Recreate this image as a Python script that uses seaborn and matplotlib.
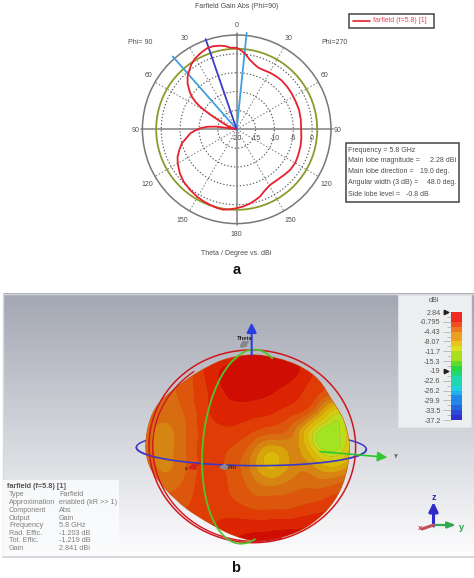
import numpy as np
import matplotlib
matplotlib.use("Agg")
import matplotlib.pyplot as plt
import matplotlib.tri as mtri
from matplotlib.colors import ListedColormap
from matplotlib.patches import PathPatch, Rectangle
from matplotlib.path import Path
import seaborn as sns

sns.set_theme(style="white")
plt.rcParams['font.family'] = ['Liberation Sans', 'DejaVu Sans']

W, H = 474, 578
# ---------- data: polar cut ----------
theta_deg = [0, 3, 6.3, 10.9, 15, 19.4, 25, 30.5, 36, 42.4, 50, 56.8, 65, 72.8, 81, 90, 98, 105, 113, 120, 127,
             133, 141, 149, 155, 161, 166, 170, 175, 180, 185, 189.4, 194, 199.4, 205, 210.7, 218, 225.5, 232,
             237.4, 241, 245, 250, 255.7, 261, 265, 268, 271.6, 275, 277.6, 279, 282, 290, 296, 299, 301.7,
             303.5, 306, 309, 313, 317, 321.4, 325, 329.6, 335, 339.7, 344, 348.7, 352, 355.3, 360]
gain_db = [1.6, 1.0, 0.2, -1.3, -2.1, -2.7, -2.75, -2.6, -2.5, -2.4, -2.5, -2.6, -2.7, -2.7, -2.8, -2.9, -2.7,
           -2.5, -2.3, -2.1, -2.2, -2.5, -2.8, -2.8, -2.2, -1.1, -0.5, 0.0, 0.5, 0.9, 1.3, 1.6, 1.5, 1.25,
           1.0, 0.7, 0.25, -0.25, -0.9, -1.65, -2.1, -2.7, -3.8, -5.0, -6.7, -7.65, -8.8, -10.3, -12.2, -14.7,
           -18.5, -19.6, -17.5, -15.0, -12.0, -8.6, -7.0, -5.3, -3.9, -2.2, -0.9, 0.1, 1.0, 1.8, 2.4, 2.85, 2.9,
           2.6, 2.3, 1.7, 1.6]
green_level_db = 1.35
lobe_dir_deg = 341.0
width_edges_deg = [318.7, 5.9]
ring_levels = [-15, -10, -5, 0]
ring_labels = ["-20", "-15", "-10", "-5", "0"]
ring_label_db = [-20, -15, -10, -5, 0]
info_lines = [("Frequency = 5.8 GHz", ""), ("Main lobe magnitude =", "2.28 dBi"),
              ("Main lobe direction =", "19.0 deg."), ("Angular width (3 dB) =", "48.0 deg."),
              ("Side lobe level =", "-0.8 dB")]
# ---------- data: 3D panel ----------
cb_ticks = ["2.84", "-0.795", "-4.43", "-8.07", "-11.7", "-15.3", "-19", "-22.6", "-26.2", "-29.9", "-33.5", "-37.2"]
cb_levels = [2.84, 1.0, -0.8, -2.6, -4.4, -6.2, -8.1, -9.9, -11.7, -13.5, -15.3, -17.1, -19, -20.8, -22.6, -24.4,
             -26.2, -28.0, -29.9, -31.7, -33.5, -35.3]
cb_colors = ['#ee2a22', '#f0501f', '#f0781f', '#eca01f', '#e8c420', '#dfe020', '#a8e020', '#60dc28', '#28d840',
             '#20d878', '#20d8b0', '#20d0e0', '#20b0ec', '#2088e8', '#2468e0', '#2c48d8', '#3030d0']
surface_x = [100, 164, 228, 292, 356, 420, 484, 548, 612, 676, 740]
surface_y = [100, 158, 216, 274, 332, 390, 448, 506, 564, 622, 680]
surface_level = [[3, 3, 2.5, 1.5, 1, .2, .2, .4, 1.5, 2, 3],
                 [3.8, 3.5, 3, 1.2, .2, 0, 0, .2, 1.5, 3, 4],
                 [3.8, 3.8, 3, 1.5, .3, .1, .4, 1, 2, 3.5, 5],
                 [3.8, 4, 3.3, 1.6, .9, 1, 1.3, 2, 4, 8, 6],
                 [3.8, 4.8, 3.5, 2, 1.7, 2.2, 3, 4.2, 8.4, 9.6, 7],
                 [3.8, 4.8, 3.5, 2, 2.5, 4, 6.3, 5.2, 7.8, 9.3, 6],
                 [3.7, 4.6, 3.5, 2, 2.7, 4.5, 6.5, 5, 5.2, 6, 4],
                 [3, 3.7, 3, 2, 2.5, 3.6, 4.2, 3.7, 3.5, 3, 2],
                 [2.5, 2.8, 2.5, 2, 2, 2.5, 2.6, 2.5, 2, 1.5, 1],
                 [2, 2, 1.8, 1.5, 1, .8, .7, .6, .5, .5, .5],
                 [1, 1, 1, .7, .4, .4, .4, .4, .4, .4, .4]]
surface_colors = ['#cf0d02', '#dc2403', '#e03c06', '#dc560b', '#d86c10', '#d68412', '#d8a40c', '#dcba0a', '#d4cc12',
                  '#bcdc20', '#a2e424']
body_x = [425, 500, 570, 625, 665, 700, 717, 712, 690, 650, 590, 520, 440, 370, 300, 230, 170, 125, 108, 115, 140,
          190, 260, 340]
body_y = [105, 115, 140, 180, 240, 300, 370, 440, 510, 570, 620, 650, 662, 645, 610, 565, 510, 450, 390, 320, 260,
          210, 160, 120]
table_title = "farfield (f=5.8) [1]"
table_keys = ["Type", "Approximation", "Component", "Output", "Frequency", "Rad. Effic.", "Tot. Effic.", "Gain"]
table_vals = ["Farfield", "enabled (kR >> 1)", "Abs", "Gain", "5.8 GHz", "-1.203 dB", "-1.219 dB", "2.841 dBi"]

fig = plt.figure(figsize=(W / 100, H / 100), dpi=100, facecolor="white")


def rect(l, t, r, b):
    return [l / W, 1 - b / H, (r - l) / W, (b - t) / H]


# page axes in pixel units
page = fig.add_axes([0, 0, 1, 1], zorder=0)
page.set_xlim(0, W)
page.set_ylim(H, 0)
page.axis("off")
TXT = "#4c4c4c"
FS = 5.0


def label(x, y, s, ha="center", color=TXT, fs=FS, **kw):
    page.text(x, y, s, ha=ha, va="center", color=color, fontsize=fs, zorder=30, **kw)


# ---------- panel a ----------
cx, cy, R = 236.7, 129.3, 94.3
pol = fig.add_axes(rect(cx - R, cy - R, cx + R, cy + R), projection="polar", zorder=2, facecolor="none")
pol.set_theta_zero_location("N")
pol.set_theta_direction(-1)
for a in [0, 90, 180, 270]:
    pol.plot([np.deg2rad(a)] * 2, [-20, 5.4], color="#808080", lw=1.1, clip_on=False, zorder=2)
sns.lineplot(x=np.deg2rad(np.arange(0, 361, 2)), y=green_level_db, ax=pol, color="#8b9a2c", lw=1.3, zorder=3)
for a in width_edges_deg:
    pol.plot([np.deg2rad(a)] * 2, [-20, 5.7], color="#3f9fe0", lw=1.3, clip_on=False, zorder=4)
pol.plot([np.deg2rad(lobe_dir_deg)] * 2, [-20, 5.3], color="#3b3bc8", lw=1.3, clip_on=False, zorder=4)
sns.lineplot(x=np.deg2rad(theta_deg), y=gain_db, sort=False, estimator=None, ax=pol, color="#e8202e", lw=1.3, zorder=5)
pol.set_xlabel("")
pol.set_ylabel("")
pol.set_rlim(-20, 5)
pol.set_rticks(ring_levels)
pol.set_yticklabels([])
pol.set_xticks(np.deg2rad([30, 60, 120, 150, 210, 240, 300, 330]))
pol.set_xticklabels([])
pol.grid(True, axis="y", color="#555555", lw=0.8, ls=(0, (1.2, 1.8)))
pol.grid(True, axis="x", color="#777777", lw=0.7, ls=(0, (1.5, 2)))
pol.spines["polar"].set_color("#777777")
pol.spines["polar"].set_linewidth(1.1)

rim = [("0", 410, 77), ("30", 253, 117), ("30", 567, 117), ("60", 147, 227), ("60", 674, 227), ("90", 108, 390),
       ("90", 712, 390), ("120", 141, 552), ("120", 680, 552), ("150", 248, 662), ("150", 572, 662), ("180", 410, 703),
       ("Phi= 90", 120, 127), ("Phi=270", 703, 127), ("Farfield Gain Abs (Phi=90)", 410, 18),
       ("Theta / Degree vs. dBi", 410, 761)]
for s, zx_, zy_ in rim:
    label(zx_ / 3 + 100, zy_ / 3, s)
for s, v in zip(ring_labels, ring_label_db):
    label(cx + (v + 20) * R / 25, 138.5, s)
label(237, 270, "a", fontweight="bold", color="#111111", fs=10.5)

page.add_patch(Rectangle((349, 14), 85, 14, fc="white", ec="#444444", lw=1.1, zorder=3))
page.plot([353, 370], [20.8, 20.8], color="#e8202e", lw=1.2, zorder=4)
label(373, 20.8, "farfield (f=5.8) [1]", ha="left", color="#e8405a")
page.add_patch(Rectangle((346, 143), 113, 59, fc="white", ec="#444444", lw=1.1, zorder=3))
info_y = [150, 160.7, 171.7, 182.7, 194]
info_x = [0, 456.5, 449, 456, 428.5]
for (k, v), y, vx in zip(info_lines, info_y, info_x):
    label(348.5, y, k, ha="left")
    if v:
        label(vx, y, v, ha="right")

# ---------- panel b ----------
top_c = np.array(matplotlib.colors.to_rgb("#a3a7b3"))
bot_c = np.array(matplotlib.colors.to_rgb("#fdfdfe"))
frac = np.arange(64).reshape(-1, 1) / 63
grad = (top_c * (1 - frac)[:, :, None] + bot_c * frac[:, :, None])
page.imshow(grad, extent=(3, W, 556, 293), aspect="auto", zorder=1)
page.set_xlim(0, W)
page.set_ylim(H, 0)
page.plot([3, W], [293.5, 293.5], color="#d6d8dc", lw=1, zorder=2)
page.plot([3, W], [556.5, 556.5], color="#cfd1d4", lw=1.2, zorder=2)
page.plot([3, 3], [293, 556], color="#d6d8dc", lw=1, zorder=2)


def zx(v):
    return np.asarray(v, float) / 3 + 110


def zy(v):
    return np.asarray(v, float) / 3 + 320


def ell(c, rx, ry, a_deg, t0, t1):
    a = np.deg2rad(a_deg)
    t = np.deg2rad(np.linspace(t0, t1, 200))
    u = np.array([np.sin(a), -np.cos(a)])
    v = np.array([-np.cos(a), -np.sin(a)])
    return (zx(c[0] + ry * np.cos(t) * u[0] + rx * np.sin(t) * v[0]),
            zy(c[1] + ry * np.cos(t) * u[1] + rx * np.sin(t) * v[1]))


# blue ring behind the body
page.plot(*ell((424, 385), 52, 345, 90.5, 0, 360), color="#3a3ac8", lw=1.1, zorder=3)

# smooth closed outline of the surface
bx, by = zx(body_x), zy(body_y)
n = len(bx)
verts, codes = [(bx[0], by[0])], [Path.MOVETO]
for i in range(n):
    p0, p1, p2, p3 = [np.array([bx[(i + k) % n], by[(i + k) % n]]) for k in (-1, 0, 1, 2)]
    verts += [tuple(p1 + (p2 - p0) / 6), tuple(p2 - (p3 - p1) / 6), tuple(p2)]
    codes += [Path.CURVE4] * 3
clip = PathPatch(Path(verts, codes), fc="#d8600c", ec="#c25a14", lw=0.8, zorder=4)
page.add_patch(clip)

gx, gy = np.meshgrid(zx(surface_x), zy(surface_y))
tri = mtri.Triangulation(gx.ravel(), gy.ravel())
rtri, rz = mtri.UniformTriRefiner(tri).refine_field(np.array(surface_level, float).ravel(), subdiv=3)
cs = page.tricontourf(rtri, rz, levels=[-9, .5, 1.5, 2.5, 3.5, 4.5, 5.5, 6.5, 7.5, 8.5, 9.2, 99],
                      colors=surface_colors, zorder=5, antialiased=True)
cs.set_clip_path(clip)
page.set_xlim(0, W)
page.set_ylim(H, 0)

# rings in front of the body
page.plot(*ell((424, 385), 52, 345, 90.5, 180, 360), color="#3a3ac8", lw=1.2, zorder=7)
page.plot(*ell((427, 379), 310, 289, 4, 0, 360), color="#d0161e", lw=1.1, zorder=7)
page.plot(*ell((431, 383), 303, 281, 4, 40, 200), color="#d0161e", lw=1.0, zorder=7)
page.plot(*ell((413, 380), 135, 292, 5, -22, 200), color="#55c42c", lw=1.3, zorder=8)


def arrow(p, q, color, lw=1.4, hs=7):
    page.annotate("", xy=(zx(q[0]), zy(q[1])), xytext=(zx(p[0]), zy(p[1])), zorder=9,
                  arrowprops=dict(arrowstyle=f"-|>,head_length={hs * 0.06},head_width={hs * 0.03}", color=color, lw=lw,
                                  shrinkA=0, shrinkB=0))


arrow((425, 105), (425, 8), "#2c3ce0", 1.5, 8)
arrow((630, 395), (832, 412), "#2ec82e", 1.2, 8)
arrow((262, 436), (232, 447), "#d8201c", 1.8, 5)
arrow((352, 440), (325, 443), "#8a8a90", 1.8, 4)
arrow((412, 66), (386, 84), "#85878c", 2.2, 4)
label(zx(403), zy(55), "Theta", fontweight="bold", fs=4.2, color="#222222")
label(zx(368), zy(443), "Phi", fontweight="bold", fs=4.2, color="#333333")
label(zx(856), zy(411), "Y", fontweight="bold", fs=4.0, color="#222222")
label(zx(229), zy(447), "x", fontweight="bold", fs=3.5, color="#222222")

# axes icon
page.annotate("", xy=(433.5, 502), xytext=(433.5, 526), zorder=9,
              arrowprops=dict(arrowstyle="-|>,head_length=0.45,head_width=0.22", color="#2c2cc8", lw=2.2, shrinkA=0, shrinkB=0))
page.annotate("", xy=(456, 525), xytext=(433.5, 525), zorder=9,
              arrowprops=dict(arrowstyle="-|>,head_length=0.4,head_width=0.15", color="#2fa850", lw=1.6, shrinkA=0, shrinkB=0))
page.plot([433.5, 422], [525, 529], color="#c05060", lw=2.2, zorder=9)
label(433.5, 498, "z", fontweight="bold", fs=6.5, color="#2c2cb0")
label(461, 527, "y", fontweight="bold", fs=6.5, color="#2a9a50")
label(420, 529, "x", fontweight="bold", fs=6, color="#e03040")

# info table
page.add_patch(Rectangle((3, 480), 116, 76, fc="#fafbfc", ec="none", alpha=0.9, zorder=6))
label(7, 486, table_title, ha="left", color="#555555", fontweight="bold", fs=5.2)
for k, v, y in zip(table_keys, table_vals, [495, 502.7, 510.3, 518, 525.7, 533.3, 541, 548.7]):
    label(9, y, k, ha="left", color="#808080", fs=5.2)
    label(59, y, v, ha="left", color="#808080", fs=5.2)

# colour scale panel
page.add_patch(Rectangle((398, 295), 73, 132, fc="#edeef0", ec="#e4e5e8", lw=0.6, zorder=6))
label(434, 301, "dBi", color="#555555", fs=5.2)
cb = fig.add_axes(rect(451, 312, 462, 420), zorder=3)
cb_data = np.array(cb_levels).reshape(-1, 1)
sns.heatmap(cb_data, ax=cb, cbar=False, cmap=ListedColormap(cb_colors[::-1]), xticklabels=False,
            yticklabels=False, vmin=-37.2, vmax=2.84)
cb.set_yticks(np.arange(0, 23, 2))
cb.set_yticklabels(cb_ticks, fontsize=5.2, color="#555555")
cb.set_yticks(np.arange(1, 22, 2), minor=True)
cb.tick_params(axis="y", which="major", length=6, width=0.5, color="#aaaaaa", pad=1.5, left=True)
cb.tick_params(axis="y", which="minor", length=3, width=0.5, color="#aaaaaa", left=True)
cb.plot([-0.42, -0.42], [0, 12], ls="none", marker=">", ms=3.2, color="#222222", clip_on=False, zorder=10)

label(236, 568, "b", fontweight="bold", color="#111111", fs=10.5)

fig.savefig("out.png", dpi=100)
